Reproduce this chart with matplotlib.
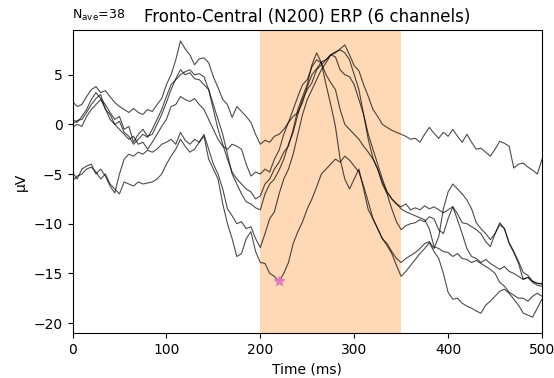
import numpy as np
import matplotlib
matplotlib.use("Agg")
import matplotlib.pyplot as plt

times = list(range(0, 501, 5))

ch_a = [2.3, 1.8, 2.0, 2.8, 3.5, 3.8, 3.2, 3.4, 2.8, 2.2, 1.8, 1.5, 1.2, 1.6, 1.2, 1.0, 1.5, 1.3, 2.0, 2.6,
        4.0, 5.0, 6.5, 8.4, 7.6, 7.0, 6.0, 6.6, 6.7, 6.2, 4.8, 3.7, 2.5, 2.0, 0.7, 1.8, 1.3, 0.8, 0.2, -1.0,
        -2.0, -1.6, -1.8, -1.2, -1.0, -0.5, 0.2, 0.8, 1.2, 2.2, 3.8, 5.0, 5.6, 6.3, 6.5, 7.0, 7.2, 7.6, 8.0, 7.0,
        5.9, 5.4, 4.0, 2.8, 1.5, 0.8, 0.0, -0.3, -0.6, -0.8, -1.0, -1.2, -1.5, -1.4, -1.8, -1.0, -0.3, -0.9, -1.4, -0.8,
        -1.2, -0.5, -1.2, -1.8, -1.0, -1.8, -2.5, -2.4, -2.8, -3.2, -2.5, -1.7, -1.9, -2.2, -4.4, -4.0, -3.9, -4.3, -4.6, -5.0,
        -3.5]
ch_b = [0.5, 0.2, 0.8, 1.5, 2.5, 3.2, 2.6, 2.0, 1.2, 0.5, 0.8, -0.5, -0.2, -1.8, -1.0, -0.5, -1.2, -1.0, 0.0, 1.0,
        2.2, 3.5, 4.6, 5.5, 5.0, 5.2, 4.6, 4.5, 4.0, 3.5, 1.5, -0.5, -2.0, -3.5, -4.8, -5.5, -6.0, -6.5, -6.8, -7.5,
        -7.2, -6.0, -5.5, -4.5, -3.8, -2.8, -2.2, -0.5, 1.5, 2.8, 4.0, 6.0, 7.2, 6.2, 4.0, 2.0, -0.2, -3.5, -5.5, -6.5,
        -5.5, -4.5, -6.5, -8.6, -9.5, -10.5, -11.5, -12.0, -12.8, -13.5, -13.9, -13.5, -13.2, -12.9, -12.5, -12.0, -11.8, -12.5, -11.3, -8.5,
        -6.8, -6.0, -6.5, -7.0, -7.6, -8.5, -9.9, -10.5, -11.0, -11.6, -11.0, -10.1, -10.5, -11.9, -12.8, -13.8, -14.9, -15.2, -15.8, -16.0,
        -16.1]
ch_c = [0.0, 0.4, 0.5, 1.2, 2.0, 2.6, 3.0, 1.5, 1.0, 0.0, 0.3, -0.8, -1.2, -2.0, -1.5, -1.0, -1.3, -0.5, 0.5, 1.5,
        2.8, 4.0, 4.5, 5.0, 5.3, 5.5, 5.0, 5.1, 4.8, 3.5, 2.0, 0.5, -1.0, -3.0, -5.0, -6.0, -7.0, -7.8, -8.0, -8.4,
        -8.6, -7.0, -6.0, -5.5, -4.6, -3.5, -2.0, -0.8, 1.0, 2.5, 3.5, 4.2, 5.5, 6.0, 6.5, 7.0, 7.3, 7.5, 7.2, 6.5,
        5.0, 3.5, 1.0, -1.5, -3.4, -4.5, -5.8, -6.8, -7.5, -8.0, -8.3, -8.0, -8.6, -8.4, -8.6, -8.2, -8.5, -8.3, -8.6, -8.9,
        -8.6, -8.3, -9.0, -9.9, -10.0, -10.3, -10.6, -11.0, -11.8, -12.3, -11.0, -9.9, -10.5, -12.0, -12.9, -14.0, -15.6, -15.4, -15.9, -16.2,
        -16.3]
ch_d = [-0.3, 0.0, -0.2, 0.8, 1.5, 2.0, 2.5, 1.6, 0.5, 0.0, -0.5, -1.0, -1.5, -1.2, -2.0, -1.8, -2.5, -1.8, -1.0, -0.2,
        0.5, 1.8, 2.0, 2.8, 2.5, 2.3, 2.6, 2.0, 1.5, 0.5, -0.5, -1.5, -2.2, -2.5, -2.0, -2.2, -2.5, -4.0, -5.2, -4.8,
        -5.0, -4.5, -4.8, -3.5, -2.6, -1.0, 0.2, 1.5, 2.8, 4.0, 4.5, 5.8, 6.5, 6.2, 5.0, 4.2, 3.5, 1.5, 0.0, -0.5,
        -1.0, -1.5, -2.2, -2.8, -3.5, -4.5, -6.0, -7.0, -8.5, -9.8, -10.6, -10.2, -10.0, -9.9, -9.6, -9.8, -9.3, -9.5, -10.6, -11.0,
        -9.5, -8.3, -9.6, -11.0, -12.5, -13.3, -13.5, -13.9, -13.6, -14.0, -14.3, -14.6, -14.3, -14.8, -15.0, -15.3, -15.6, -15.4, -15.8, -16.0,
        -16.0]
ch_e = [-4.8, -5.5, -4.5, -4.2, -4.0, -5.0, -4.5, -5.2, -6.2, -6.9, -5.0, -3.5, -3.0, -3.2, -2.8, -3.0, -2.6, -2.8, -2.5, -2.0,
        -1.8, -1.5, -2.0, -0.8, -1.6, -2.0, -1.5, -1.8, -1.0, -2.5, -4.0, -5.0, -6.5, -8.5, -9.2, -10.0, -9.8, -10.5, -10.3, -11.5,
        -12.4, -11.0, -9.5, -8.8, -7.0, -5.5, -4.5, -3.0, -1.0, 1.0, 2.5, 3.5, 4.5, 5.5, 6.2, 7.0, 6.8, 5.5, 5.0, 4.8,
        4.0, 2.5, 1.0, -1.0, -2.5, -4.0, -5.5, -6.8, -7.5, -8.0, -8.5, -8.8, -9.0, -9.2, -9.4, -9.6, -10.5, -12.3, -12.5, -12.8,
        -12.9, -13.3, -13.0, -13.5, -13.6, -13.9, -13.7, -14.0, -14.3, -14.6, -15.0, -15.9, -16.3, -16.9, -17.2, -17.5, -17.5, -17.8, -17.3, -17.0,
        -17.3]
ch_f = [-5.7, -5.2, -5.0, -4.5, -4.3, -4.8, -5.5, -5.0, -6.0, -6.5, -7.0, -5.8, -6.0, -6.2, -5.8, -6.0, -5.9, -5.8, -5.5, -5.0,
        -4.0, -3.2, -2.5, -1.5, -2.2, -2.8, -2.5, -1.8, -1.2, -3.5, -4.5, -5.5, -8.0, -10.0, -11.5, -13.3, -13.0, -11.5, -10.8, -12.8,
        -13.9, -14.0, -15.0, -15.3, -15.8, -15.0, -13.9, -12.0, -10.8, -9.8, -8.5, -7.5, -6.3, -5.0, -4.5, -4.0, -3.5, -3.8, -3.2, -3.6,
        -4.2, -4.8, -6.2, -7.8, -9.5, -10.5, -11.5, -12.2, -13.0, -14.2, -15.3, -14.8, -14.2, -13.6, -13.0, -12.5, -11.9, -12.8, -13.5, -15.0,
        -16.9, -17.6, -17.5, -18.0, -18.3, -18.5, -18.8, -19.0, -18.2, -17.8, -17.3, -16.8, -16.6, -17.0, -17.6, -18.2, -19.0, -19.2, -19.4, -18.5,
        -17.6]

channels = [ch_a, ch_b, ch_c, ch_d, ch_e, ch_f]
highlight = (200, 350)
title = "Fronto-Central (N200) ERP (6 channels)"
nave = 38
xticks = [0, 100, 200, 300, 400, 500]
yticks = [-20, -15, -10, -5, 0, 5]

fig = plt.figure(figsize=(5.54, 3.78), dpi=100)
ax = fig.add_axes([72.5 / 554, 1 - 333 / 378, (542 - 72.5) / 554, (333 - 30) / 378])

ax.axvspan(highlight[0], highlight[1], color="C1", alpha=0.3, lw=0, zorder=0)
for ch in channels:
    ax.plot(times, ch, color="k", lw=0.8, alpha=0.7, zorder=2)

# peak marker (minimum across channels within highlighted window)
best = None
for ch in channels:
    for t, v in zip(times, ch):
        if highlight[0] <= t <= highlight[1]:
            if best is None or v < best[1]:
                best = (t, v)
ax.plot([best[0]], [best[1]], marker="*", color="C6", ms=7, zorder=3, alpha=0.9)

ax.set_xlim(0, 500)
ax.set_ylim(-21.0, 9.5)
ax.set_xticks(xticks)
ax.set_yticks(yticks)
ax.set_xlabel("Time (ms)")
ax.set_ylabel("µV")
ax.set_title(title, fontsize=12)
ax.annotate(r"N$_{\mathrm{ave}}$=%d" % nave, xy=(0, 1), xycoords="axes fraction",
            xytext=(0, 5), textcoords="offset points", ha="left", va="bottom", fontsize=9)
for s in ax.spines.values():
    s.set_linewidth(0.8)

fig.savefig("out.png", dpi=100)
